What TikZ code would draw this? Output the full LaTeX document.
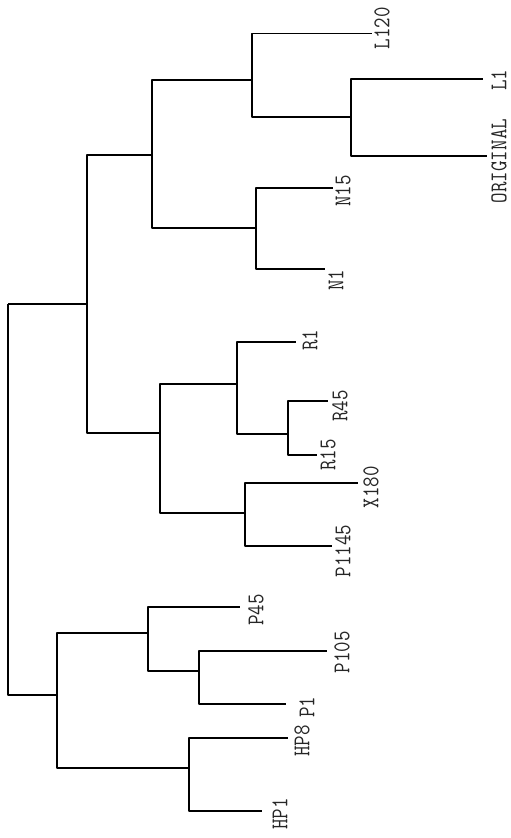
\documentclass[tikz,border=0pt]{standalone}
\usepackage{graphicx}
\begin{document}
\begin{tikzpicture}[x=1pt,y=-1pt,
  branch/.style={line width=1.3pt, black, line join=round},
  leaflabel/.style={rotate=90, inner sep=0pt, anchor=center, text=black!85,
    font=\fontsize{24}{24}\selectfont\ttfamily}]
\useasboundingbox (0,0) rectangle (511,838);

% internal nodes: (x of vertical bar, y where the parent line arrives)
\coordinate (root) at (8,304);
\coordinate (A) at (87,304);
\coordinate (C) at (152,155);
\coordinate (E) at (252,80);
\coordinate (G) at (351,117);
\coordinate (F) at (256,228);
\coordinate (D) at (160,433);
\coordinate (H) at (237,384);
\coordinate (J) at (288,434);
\coordinate (I) at (245,513);
\coordinate (B) at (57,695);
\coordinate (K) at (148,633);
\coordinate (Q) at (199,671);
\coordinate (M) at (189,768);

% leaf ends
\coordinate (lL120) at (372,33.5);
\coordinate (lL1) at (483,79);
\coordinate (lORIG) at (487,156);
\coordinate (lN15) at (333,188);
\coordinate (lN1) at (325,269);
\coordinate (lR1) at (296,342);
\coordinate (lR45) at (328,401);
\coordinate (lR15) at (317,455);
\coordinate (lX180) at (358,483);
\coordinate (lP1145) at (332,546);
\coordinate (lP45) at (240,607);
\coordinate (lP105) at (327,651);
\coordinate (lP1) at (286,704);
\coordinate (lHP8) at (288,738);
\coordinate (lHP1) at (262,811);

% branches
\draw[branch] (root) |- (A);
\draw[branch] (root) |- (B);
\draw[branch] (A) |- (C);
\draw[branch] (A) |- (D);
\draw[branch] (C) |- (E);
\draw[branch] (C) |- (F);
\draw[branch] (E) |- (lL120);
\draw[branch] (E) |- (G);
\draw[branch] (G) |- (lL1);
\draw[branch] (G) |- (lORIG);
\draw[branch] (F) |- (lN15);
\draw[branch] (F) |- (lN1);
\draw[branch] (D) |- (H);
\draw[branch] (D) |- (I);
\draw[branch] (H) |- (lR1);
\draw[branch] (H) |- (J);
\draw[branch] (J) |- (lR45);
\draw[branch] (J) |- (lR15);
\draw[branch] (I) |- (lX180);
\draw[branch] (I) |- (lP1145);
\draw[branch] (B) |- (K);
\draw[branch] (B) |- (M);
\draw[branch] (K) |- (lP45);
\draw[branch] (K) |- (Q);
\draw[branch] (Q) |- (lP105);
\draw[branch] (Q) |- (lP1);
\draw[branch] (M) |- (lHP8);
\draw[branch] (M) |- (lHP1);

% leaf labels
\node[leaflabel] (tL120) at (382,28) {\scalebox{0.85}[1]{L120}};
\node[leaflabel] (tL1) at (499,80) {\scalebox{0.85}[1]{L1}};
\node[leaflabel] (tORIG) at (499,161) {\scalebox{0.85}[1]{ORIGINAL}};
\node[leaflabel] (tN15) at (343,191) {\scalebox{0.85}[1]{N15}};
\node[leaflabel] (tN1) at (336,280) {\scalebox{0.85}[1]{N1}};
\node[leaflabel] (tR1) at (310,340) {\scalebox{0.85}[1]{R1}};
\node[leaflabel] (tR45) at (340,406) {\scalebox{0.85}[1]{R45}};
\node[leaflabel] (tR15) at (328,455) {\scalebox{0.85}[1]{R15}};
\node[leaflabel] (tX180) at (371,487) {\scalebox{0.85}[1]{X180}};
\node[leaflabel] (tP1145) at (343,551) {\scalebox{0.85}[1]{P1145}};
\node[leaflabel] (tP45) at (256,610) {\scalebox{0.85}[1]{P45}};
\node[leaflabel] (tP105) at (342,652) {\scalebox{0.85}[1]{P105}};
\node[leaflabel] (tP1) at (307,707) {\scalebox{0.85}[1]{P1}};
\node[leaflabel] (tHP8) at (302,741) {\scalebox{0.85}[1]{HP8}};
\node[leaflabel] (tHP1) at (280,814) {\scalebox{0.85}[1]{HP1}};
\end{tikzpicture}
\end{document}
